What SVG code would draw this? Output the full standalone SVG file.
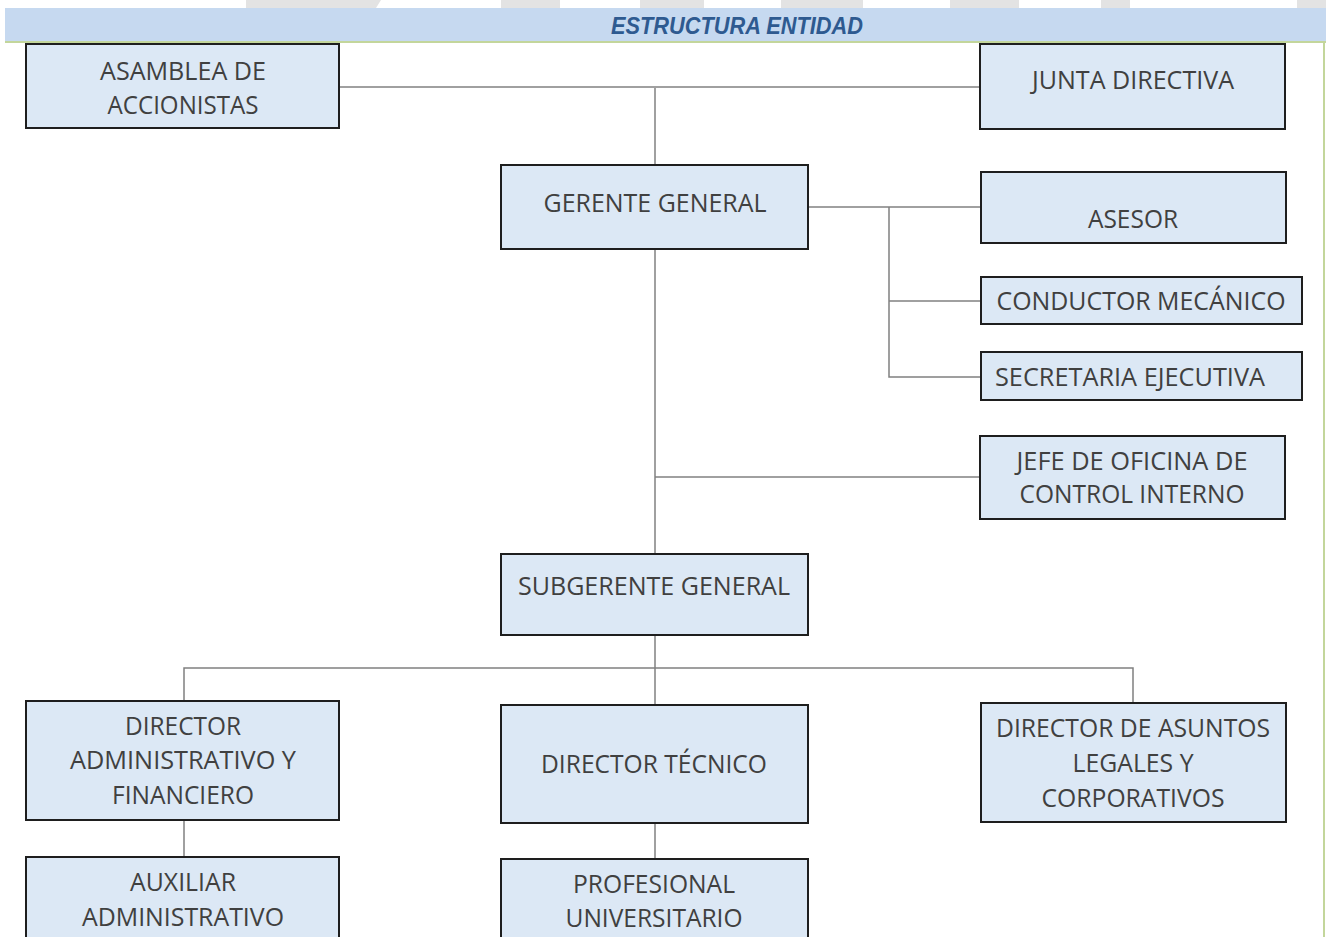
<svg xmlns="http://www.w3.org/2000/svg" width="1326" height="937" viewBox="0 0 1326 937">
<style>
.box{fill:#dce8f5;stroke:#1e1e1e;stroke-width:2}
.t{font-family:"Open Sans","Liberation Sans",sans-serif;font-size:25px;fill:#404040}
.c{text-anchor:middle}
.wm{fill:#e3e3e3}
#connectors line,#connectors polyline{stroke:#808080;stroke-width:1.5;fill:none}
</style>
<rect width="1326" height="937" fill="#ffffff"/>
<g id="watermark">
<polygon class="wm" points="246,0 381,0 376,8 246,8"/>
<rect class="wm" x="501" y="0" width="59" height="8"/>
<rect class="wm" x="640" y="0" width="64" height="8"/>
<rect class="wm" x="781" y="0" width="82" height="8"/>
<rect class="wm" x="950" y="0" width="69" height="8"/>
<rect class="wm" x="1101" y="0" width="29" height="8"/>
<rect class="wm" x="1297" y="0" width="29" height="8"/>
</g>
<g id="header">
<rect x="5" y="8" width="1321" height="33" fill="#c6d9f0"/>
<rect x="5" y="41" width="1321" height="2" fill="#c3d69b"/>
<rect x="1323" y="41" width="2" height="896" fill="#c3d69b"/>
<text x="737" y="34" text-anchor="middle" font-family="'Liberation Sans',Arial,sans-serif" font-size="23" font-weight="bold" font-style="italic" fill="#2e5a90" textLength="252" lengthAdjust="spacingAndGlyphs">ESTRUCTURA ENTIDAD</text>
</g>
<g id="connectors">
<line x1="339" y1="87" x2="980" y2="87"/>
<line x1="655" y1="88" x2="655" y2="165"/>
<line x1="655" y1="249" x2="655" y2="553"/>
<line x1="808" y1="207" x2="981" y2="207"/>
<polyline points="889,207 889,377 981,377"/>
<line x1="889" y1="301" x2="981" y2="301"/>
<line x1="655" y1="477" x2="980" y2="477"/>
<line x1="655" y1="635" x2="655" y2="705"/>
<polyline points="184,701 184,668 1133,668 1133,703"/>
<line x1="184" y1="820" x2="184" y2="857"/>
<line x1="655" y1="823" x2="655" y2="859"/>
</g>
<g id="asamblea">
<rect class="box" x="26" y="44" width="313" height="84"/>
<text class="t c" x="183" y="80" textLength="166" lengthAdjust="spacingAndGlyphs">ASAMBLEA DE</text>
<text class="t c" x="183" y="114" textLength="151" lengthAdjust="spacingAndGlyphs">ACCIONISTAS</text>
</g>
<g id="junta">
<rect class="box" x="980" y="44" width="305" height="85"/>
<text class="t c" x="1133" y="89" textLength="202" lengthAdjust="spacingAndGlyphs">JUNTA DIRECTIVA</text>
</g>
<g id="gerente">
<rect class="box" x="501" y="165" width="307" height="84"/>
<text class="t c" x="655" y="212" textLength="223" lengthAdjust="spacingAndGlyphs">GERENTE GENERAL</text>
</g>
<g id="asesor">
<rect class="box" x="981" y="172" width="305" height="71"/>
<text class="t c" x="1133" y="228" textLength="90" lengthAdjust="spacingAndGlyphs">ASESOR</text>
</g>
<g id="conductor">
<rect class="box" x="981" y="277" width="321" height="47"/>
<text class="t c" x="1141" y="310" textLength="289" lengthAdjust="spacingAndGlyphs">CONDUCTOR MECÁNICO</text>
</g>
<g id="secretaria">
<rect class="box" x="981" y="352" width="321" height="48"/>
<text class="t" x="995" y="386" textLength="270" lengthAdjust="spacingAndGlyphs">SECRETARIA EJECUTIVA</text>
</g>
<g id="jefe">
<rect class="box" x="980" y="436" width="305" height="83"/>
<text class="t c" x="1132" y="470" textLength="231" lengthAdjust="spacingAndGlyphs">JEFE DE OFICINA DE</text>
<text class="t c" x="1132" y="503" textLength="225" lengthAdjust="spacingAndGlyphs">CONTROL INTERNO</text>
</g>
<g id="subgerente">
<rect class="box" x="501" y="554" width="307" height="81"/>
<text class="t c" x="654" y="595" textLength="272" lengthAdjust="spacingAndGlyphs">SUBGERENTE GENERAL</text>
</g>
<g id="dir_admin">
<rect class="box" x="26" y="701" width="313" height="119"/>
<text class="t c" x="183" y="735" textLength="116" lengthAdjust="spacingAndGlyphs">DIRECTOR</text>
<text class="t c" x="183" y="769" textLength="226" lengthAdjust="spacingAndGlyphs">ADMINISTRATIVO Y</text>
<text class="t c" x="183" y="804" textLength="142" lengthAdjust="spacingAndGlyphs">FINANCIERO</text>
</g>
<g id="dir_tecnico">
<rect class="box" x="501" y="705" width="307" height="118"/>
<text class="t c" x="654" y="773" textLength="226" lengthAdjust="spacingAndGlyphs">DIRECTOR TÉCNICO</text>
</g>
<g id="dir_legal">
<rect class="box" x="981" y="703" width="305" height="119"/>
<text class="t c" x="1133" y="737" textLength="274" lengthAdjust="spacingAndGlyphs">DIRECTOR DE ASUNTOS</text>
<text class="t c" x="1133" y="772" textLength="121" lengthAdjust="spacingAndGlyphs">LEGALES Y</text>
<text class="t c" x="1133" y="807" textLength="183" lengthAdjust="spacingAndGlyphs">CORPORATIVOS</text>
</g>
<g id="auxiliar">
<rect class="box" x="26" y="857" width="313" height="90"/>
<text class="t c" x="183" y="891" textLength="106" lengthAdjust="spacingAndGlyphs">AUXILIAR</text>
<text class="t c" x="183" y="926" textLength="202" lengthAdjust="spacingAndGlyphs">ADMINISTRATIVO</text>
</g>
<g id="profesional">
<rect class="box" x="501" y="859" width="307" height="90"/>
<text class="t c" x="654" y="893" textLength="162" lengthAdjust="spacingAndGlyphs">PROFESIONAL</text>
<text class="t c" x="654" y="927" textLength="177" lengthAdjust="spacingAndGlyphs">UNIVERSITARIO</text>
</g>
</svg>
